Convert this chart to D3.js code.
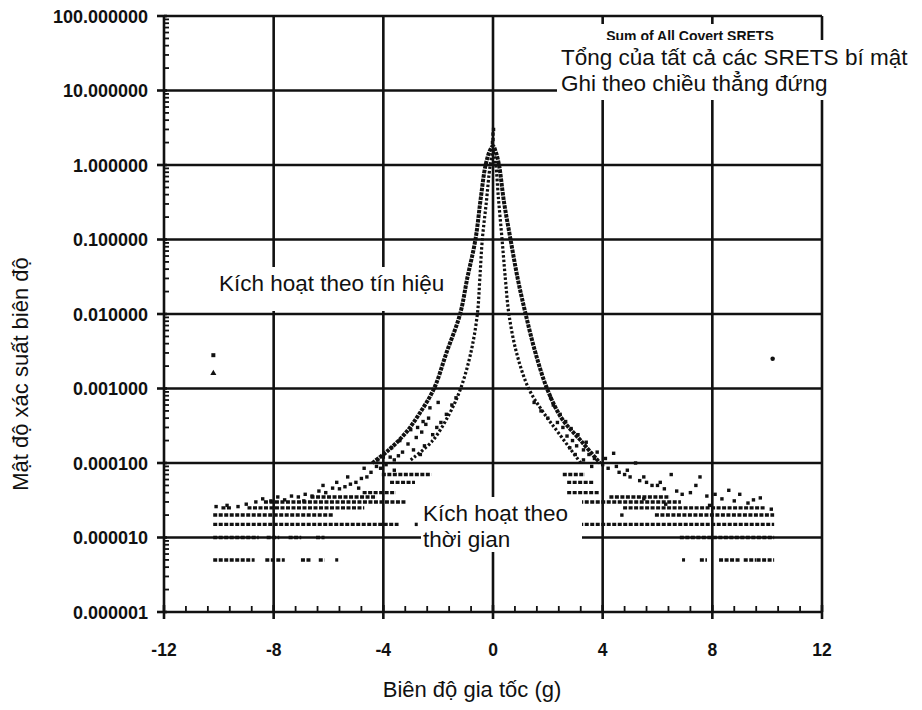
<!DOCTYPE html>
<html>
<head>
<meta charset="utf-8">
<script src="https://cdn.jsdelivr.net/npm/d3@7"></script>
<style>
  html, body { margin: 0; padding: 0; background: #fff; }
  svg { display: block; }
  text { font-family: "Liberation Sans", Arial, sans-serif; fill: #111; }
</style>
</head>
<body>
<svg id="chart" width="922" height="710"></svg>
<script>
// ---- axis ticks and labels ----
const xTicks = [-12, -8, -4, 0, 4, 8, 12];
const xTickLabels = ["-12", "-8", "-4", "0", "4", "8", "12"];
const yTicks = [100, 10, 1, 0.1, 0.01, 0.001, 0.0001, 0.00001, 0.000001];
const yTickLabels = ["100.000000", "10.000000", "1.000000", "0.100000", "0.010000",
                     "0.001000", "0.000100", "0.000010", "0.000001"];

// ---- peak curves: [acceleration (g), probability density] ----
const outerCurve = [
  [-4.4, 1.0e-4], [-3.8, 1.5e-4], [-3.2, 2.5e-4], [-2.7, 4.5e-4], [-2.15, 1.0e-3],
  [-1.7, 3.0e-3], [-1.2, 1.0e-2], [-0.94, 3.0e-2], [-0.64, 0.1], [-0.45, 0.35],
  [-0.27, 1.0], [-0.1, 1.6], [0, 1.8], [0.1, 1.5], [0.22, 1.0], [0.4, 0.32],
  [0.64, 0.1], [0.9, 3.0e-2], [1.19, 1.0e-2], [1.55, 3.0e-3], [1.97, 1.0e-3],
  [2.5, 4.0e-4], [3.2, 2.0e-4], [3.9, 1.0e-4]
];
const innerCurve = [
  [-3.0, 1.1e-4], [-2.2, 2.0e-4], [-1.6, 4.5e-4], [-1.18, 1.0e-3], [-0.81, 3.0e-3],
  [-0.57, 1.0e-2], [-0.48, 3.0e-2], [-0.39, 0.1], [-0.25, 0.3], [-0.1, 1.0],
  [0, 1.5], [0.1, 1.0], [0.2, 0.35], [0.33, 0.1], [0.45, 3.0e-2], [0.58, 1.0e-2],
  [0.86, 3.0e-3], [1.3, 1.0e-3], [1.8, 5.0e-4], [2.4, 2.5e-4], [3.2, 1.0e-4]
];

// ---- scattered points around the curves and tails ----
const cloudPoints = [
  // left
  [-1.35, 7.5e-4], [-1.5, 6e-4], [-1.7, 4.5e-4], [-1.9, 3.5e-4], [-2.05, 3.0e-4],
  [-2.3, 5.5e-4], [-2.45, 3.3e-4], [-2.6, 2.6e-4], [-2.8, 2.2e-4], [-2.9, 1.5e-4],
  [-3.1, 1.8e-4], [-3.3, 1.4e-4], [-3.45, 1.25e-4], [-3.6, 1.1e-4], [-3.75, 1.2e-4],
  [-3.9, 9.5e-5], [-4.1, 8.5e-5], [-4.25, 9e-5], [-4.45, 7.5e-5], [-4.6, 6.5e-5],
  [-4.8, 6.2e-5], [-5.0, 5.5e-5], [-5.2, 5.2e-5], [-5.4, 4.8e-5], [-5.6, 4.5e-5],
  [-5.85, 4.6e-5], [-6.1, 4.0e-5], [-6.35, 4.2e-5], [-6.6, 3.6e-5], [-6.85, 3.8e-5],
  [-7.1, 3.5e-5], [-7.35, 3.6e-5], [-7.6, 3.2e-5], [-7.85, 3.5e-5], [-8.1, 3.1e-5],
  [-8.4, 3.3e-5], [-8.65, 3.0e-5], [-9.0, 2.8e-5], [-9.3, 2.6e-5], [-9.7, 2.7e-5],
  [-10.1, 2.6e-5], [-2.2, 2.4e-4], [-3.6, 8e-5], [-4.9, 4.6e-5], [-6.9, 3.1e-5],
  [-2.0, 6.5e-4], [-2.35, 4.0e-4], [-2.55, 3.6e-4], [-2.75, 3.0e-4], [-3.0, 2.8e-4],
  [-3.4, 2.0e-4], [-3.7, 1.6e-4], [-4.0, 1.2e-4], [-4.2, 1.1e-4], [-4.7, 8.5e-5],
  [-5.3, 6.5e-5], [-5.7, 5.5e-5], [-6.2, 5.0e-5], [-2.5, 1.7e-4], [-2.65, 1.3e-4],
  // right
  [1.5, 6.5e-4], [1.75, 5e-4], [2.0, 4.0e-4], [2.2, 6e-4], [2.35, 3.5e-4],
  [2.55, 3.0e-4], [2.7, 2.3e-4], [2.9, 2.0e-4], [3.05, 1.7e-4], [3.3, 1.5e-4],
  [3.5, 1.3e-4], [3.7, 1.15e-4], [4.0, 9.5e-5], [4.2, 8.5e-5], [4.4, 1.35e-4],
  [4.6, 7.5e-5], [4.8, 7e-5], [5.0, 6.5e-5], [5.2, 1.0e-4], [5.35, 5.8e-5],
  [5.6, 5.5e-5], [5.8, 5.0e-5], [6.0, 5.0e-5], [6.25, 4.5e-5], [6.5, 7.0e-5],
  [6.7, 4.2e-5], [6.9, 3.8e-5], [7.2, 4.0e-5], [7.4, 5.0e-5], [7.55, 6.5e-5],
  [7.8, 3.6e-5], [8.1, 3.8e-5], [8.35, 3.3e-5], [8.6, 4.3e-5], [8.8, 3.1e-5],
  [9.0, 3.8e-5], [9.3, 2.9e-5], [9.5, 3.2e-5], [9.75, 3.4e-5], [10.15, 2.4e-5],
  [4.7, 2.0e-5], [6.3, 2.8e-5], [7.9, 2.7e-5], [3.6, 9e-5], [5.5, 3.3e-5],
  [2.1, 7.5e-4], [2.45, 4.5e-4], [2.65, 3.6e-4], [2.85, 2.9e-4], [3.1, 2.4e-4],
  [3.4, 1.9e-4], [3.8, 1.4e-4], [4.1, 1.15e-4], [4.5, 9e-5], [4.9, 8e-5],
  [5.5, 6.5e-5], [6.1, 5.5e-5], [3.0, 1.3e-4], [2.8, 1.6e-4], [3.3, 1.1e-4],
  // top of the peak
  [0, 2.2], [0, 2.6], [0.02, 3.0], [-0.02, 2.0]
];

// ---- quantised tail rows: density level and the acceleration ranges it covers ----
const tailRows = [
  { level: 5.0e-6, runs: [[-10.15, -8.75], [-8.25, -7.65], [-6.95, -6.7], [-6.3, -6.2], [-5.7, -5.7],
                          [6.95, 6.95], [7.6, 7.75], [8.3, 8.95], [9.2, 9.55], [9.67, 10.2]] },
  { level: 1.0e-5, runs: [[-10.15, -8.6], [-8.2, -7.85], [-7.4, -7.05], [-6.4, -6.2], [6.87, 10.2]] },
  { level: 1.5e-5, runs: [[-10.15, -3.5], [-2.8, -2.8], [3.2, 10.2]] },
  { level: 2.0e-5, runs: [[-10.15, -5.85], [5.96, 10.2]] },
  { level: 2.5e-5, runs: [[-9.85, -9.6], [-8.9, -4.75], [4.8, 9.9]] },
  { level: 3.0e-5, runs: [[-8.3, -3.2], [3.2, 6.8]] },
  { level: 3.5e-5, runs: [[-6.6, -4.3], [4.3, 6.4]] },
  { level: 4.0e-5, runs: [[-4.7, -3.6], [2.76, 3.85]] },
  { level: 5.5e-5, runs: [[-3.7, -2.9], [2.76, 3.6]] },
  { level: 7.0e-5, runs: [[-4.0, -2.3], [2.6, 3.3]] }
];

// ---- isolated points at the extremes ----
const outliers = [
  { x: -10.2, y: 2.8e-3, shape: "square" },
  { x: -10.2, y: 1.6e-3, shape: "triangle" },
  { x: 10.2, y: 2.5e-3, shape: "circle" }
];

(function draw() {
  const svg = d3.select("#chart");
  const pL = 164, pR = 822, pT = 16, pB = 612;
  const x = d3.scaleLinear().domain([-12, 12]).range([pL, pR]);
  const y = d3.scaleLog().domain([1e-6, 100]).range([pB, pT]);
  const ink = "#111";

  // ---- grid ----
  const grid = svg.append("g").attr("stroke", ink).attr("stroke-width", 2.6);
  grid.selectAll("line.h").data(yTicks.slice(1, -1)).join("line")
    .attr("x1", pL).attr("x2", pR)
    .attr("y1", d => y(d)).attr("y2", d => y(d));
  grid.selectAll("line.v").data(xTicks.slice(1, -1)).join("line")
    .attr("x1", d => x(d)).attr("x2", d => x(d))
    .attr("y1", pT).attr("y2", pB);
  // frame: top and right
  grid.append("line").attr("x1", pL).attr("x2", pR).attr("y1", pT).attr("y2", pT);
  grid.append("line").attr("x1", pR).attr("x2", pR).attr("y1", pT).attr("y2", pB);

  // ---- left axis: major ticks outward, minor log ticks inward ----
  const yAxis = svg.append("g").attr("stroke", ink);
  yAxis.append("line").attr("x1", pL).attr("x2", pL).attr("y1", pT).attr("y2", pB).attr("stroke-width", 2.6);
  yAxis.selectAll("line.maj").data(yTicks).join("line")
    .attr("x1", pL - 7).attr("x2", pL + 3)
    .attr("y1", d => y(d)).attr("y2", d => y(d)).attr("stroke-width", 2.6);
  const minorY = y.ticks().filter(t => !yTicks.some(m => Math.abs(m - t) / m < 1e-9));
  yAxis.selectAll("line.min").data(minorY).join("line")
    .attr("x1", pL).attr("x2", pL + 5)
    .attr("y1", d => y(d)).attr("y2", d => y(d)).attr("stroke-width", 1.8);
  svg.append("g").selectAll("text").data(yTicks).join("text")
    .attr("x", pL - 16).attr("y", d => y(d) + 6.5)
    .attr("text-anchor", "end").attr("font-size", 18).attr("font-weight", "bold")
    .text((d, i) => yTickLabels[i]);

  // ---- bottom axis ----
  const xAxis = svg.append("g").attr("stroke", ink);
  xAxis.append("line").attr("x1", pL).attr("x2", pR).attr("y1", pB).attr("y2", pB).attr("stroke-width", 2.6);
  const minorX = d3.range(-12, 12.01, 0.8).filter(v => Math.abs(v / 4 - Math.round(v / 4)) > 1e-6);
  xAxis.selectAll("line.min").data(minorX).join("line")
    .attr("x1", d => x(d)).attr("x2", d => x(d))
    .attr("y1", pB - 6).attr("y2", pB).attr("stroke-width", 1.8);
  xAxis.selectAll("line.maj").data(xTicks).join("line")
    .attr("x1", d => x(d)).attr("x2", d => x(d))
    .attr("y1", pB - 7).attr("y2", pB + 7).attr("stroke-width", 2.6);
  svg.append("g").selectAll("text").data(xTicks).join("text")
    .attr("x", d => x(d)).attr("y", 656)
    .attr("text-anchor", "middle").attr("font-size", 17.5).attr("font-weight", "bold")
    .text((d, i) => xTickLabels[i]);

  // ---- data ----
  const data = svg.append("g");
  const line = d3.line().x(d => x(d[0])).y(d => y(d[1])).curve(d3.curveCatmullRom);
  data.append("path").datum(outerCurve).attr("d", line)
    .attr("fill", "none").attr("stroke", ink).attr("stroke-width", 4)
    .attr("stroke-dasharray", "3.5 1");
  data.append("path").datum(innerCurve).attr("d", line)
    .attr("fill", "none").attr("stroke", ink).attr("stroke-width", 3.2)
    .attr("stroke-dasharray", "2.5 2");

  data.selectAll("g.row").data(tailRows).join("g")
    .each(function (row) {
      d3.select(this).selectAll("line").data(row.runs).join("line")
        .attr("x1", r => x(r[0]) - 1.5).attr("x2", r => x(r[1]) + 1.5)
        .attr("y1", y(row.level)).attr("y2", y(row.level))
        .attr("stroke", ink).attr("stroke-width", 3.4)
        .attr("stroke-dasharray", "4 1.5");
    });

  data.selectAll("rect.cloud").data(cloudPoints).join("rect")
    .attr("x", d => x(d[0]) - 1.7).attr("y", d => y(d[1]) - 1.7)
    .attr("width", 3.4).attr("height", 3.4).attr("fill", ink);

  const sym = { square: d3.symbolSquare, triangle: d3.symbolTriangle, circle: d3.symbolCircle };
  data.selectAll("path.out").data(outliers).join("path")
    .attr("transform", d => `translate(${x(d.x)},${y(d.y)})`)
    .attr("d", d => d3.symbol(sym[d.shape], 16)())
    .attr("fill", ink);

  // ---- annotations ----
  const notes = svg.append("g");
  notes.append("rect").attr("x", 583).attr("y", 24).attr("width", 218).attr("height", 20).attr("fill", "#fff");
  notes.append("text").attr("x", 690).attr("y", 41).attr("text-anchor", "middle")
    .attr("font-size", 14).attr("font-weight", "bold").text("Sum of All Covert SRETS");
  notes.append("rect").attr("x", 557).attr("y", 40).attr("width", 365).attr("height", 60).attr("fill", "#fff");
  notes.append("text").attr("x", 561).attr("y", 65).attr("font-size", 22.5).text("Tổng của tất cả các SRETS bí mật");
  notes.append("text").attr("x", 561).attr("y", 91).attr("font-size", 22.5).text("Ghi theo chiều thẳng đứng");

  notes.append("rect").attr("x", 212).attr("y", 267).attr("width", 246).attr("height", 44).attr("fill", "#fff");
  notes.append("text").attr("x", 219).attr("y", 291).attr("font-size", 22.5).text("Kích hoạt theo tín hiệu");

  notes.append("rect").attr("x", 421).attr("y", 497).attr("width", 161).attr("height", 55).attr("fill", "#fff");
  notes.append("text").attr("x", 423).attr("y", 521).attr("font-size", 22.5).text("Kích hoạt theo");
  notes.append("text").attr("x", 423).attr("y", 547).attr("font-size", 22.5).text("thời gian");

  // ---- axis titles ----
  svg.append("text").attr("x", 472).attr("y", 697).attr("text-anchor", "middle")
    .attr("font-size", 22).text("Biên độ gia tốc (g)");
  svg.append("text").attr("transform", "translate(28,374) rotate(-90)")
    .attr("text-anchor", "middle").attr("font-size", 22).text("Mật độ xác suất biên độ");
})();
</script>
</body>
</html>
